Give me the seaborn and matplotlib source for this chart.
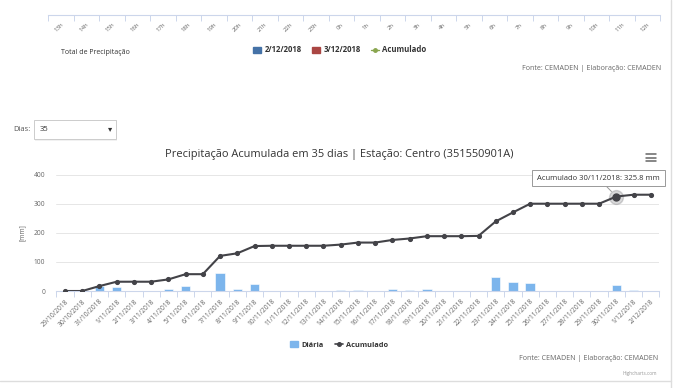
import matplotlib
matplotlib.use('Agg')
import matplotlib.pyplot as plt
import seaborn as sns
import pandas as pd
from matplotlib.patches import Rectangle, Patch
from matplotlib.lines import Line2D

# dados
datas = ['29/10/2018', '30/10/2018', '31/10/2018', '1/11/2018', '2/11/2018', '3/11/2018',
         '4/11/2018', '5/11/2018', '6/11/2018', '7/11/2018', '8/11/2018', '9/11/2018',
         '10/11/2018', '11/11/2018', '12/11/2018', '13/11/2018', '14/11/2018', '15/11/2018',
         '16/11/2018', '17/11/2018', '18/11/2018', '19/11/2018', '20/11/2018', '21/11/2018',
         '22/11/2018', '23/11/2018', '24/11/2018', '25/11/2018', '26/11/2018', '27/11/2018',
         '28/11/2018', '29/11/2018', '30/11/2018', '1/12/2018', '2/12/2018']
diaria = [0, 0, 17, 14, 0, 0, 7, 17, 0, 63, 8, 23, 1, 0, 0, 0, 2, 4, 0, 8, 2, 6,
          0, 0, 1, 48, 30, 29, 0, 0, 0, 0, 22, 2, 0]
acumulado = [0, 0, 17, 32, 32, 32, 40, 58, 58, 121, 130, 155, 156, 156, 156, 156, 160, 167,
             167, 176, 181, 189, 189, 189, 190, 240, 271, 301, 301, 301, 301, 301, 325.8, 332, 332]
y_ticks = [0, 100, 200, 300, 400]
horas = ['13h', '14h', '15h', '16h', '17h', '18h', '19h', '20h', '21h', '22h', '23h', '0h',
         '1h', '2h', '3h', '4h', '5h', '6h', '7h', '8h', '9h', '10h', '11h', '12h']
legenda_topo = ['2/12/2018', '3/12/2018', 'Acumulado']
dia_tooltip = '30/11/2018'

df = pd.DataFrame({'data': datas, 'diaria': diaria, 'acumulado': acumulado})

sns.set_theme(style='white')
plt.rcParams['font.family'] = ['Open Sans', 'DejaVu Sans']

W, H = 680, 388
fig = plt.figure(figsize=(W / 100, H / 100), dpi=100)
fig.patch.set_facecolor('white')


def fx(x):
    return x / W


def fy(y):
    return 1 - y / H


axis_col = '#ccd6eb'
txt_col = '#666666'

# --- pedaço do gráfico anterior (só o eixo x) ---
ax_top = fig.add_axes([fx(48), fy(15), fx(612), 0.02])
ax_top.set_xlim(-0.5, len(horas) - 0.5)
ax_top.set_ylim(0, 1)
for s in ['top', 'left', 'right']:
    ax_top.spines[s].set_visible(False)
ax_top.spines['bottom'].set_color(axis_col)
ax_top.spines['bottom'].set_linewidth(0.8)
ax_top.set_yticks([])
ax_top.set_xticks([i - 0.5 for i in range(len(horas) + 1)])
ax_top.set_xticklabels([])
ax_top.set_xticks(range(len(horas)), minor=True)
ax_top.set_xticklabels(horas, minor=True, rotation=45, ha='right', rotation_mode='anchor',
                       fontsize=4.3, color=txt_col)
ax_top.tick_params(axis='x', which='major', length=4, color=axis_col, width=0.7, bottom=True)
ax_top.tick_params(axis='x', which='minor', length=0, pad=5, bottom=True)
ax_top.patch.set_alpha(0)

fig.text(fx(61), fy(52), 'Total de Precipitação', fontsize=5.0, color='#333333', va='center')
top_handles = [Patch(color='#4572a7'), Patch(color='#aa4643'),
               Line2D([], [], color='#89a54e', marker='o', markersize=2.5, linewidth=1)]
leg_top = fig.legend(top_handles, legenda_topo, loc='center', bbox_to_anchor=(fx(340), fy(50)),
                     ncol=3, frameon=False, prop={'weight': 'bold', 'size': 5.6},
                     handlelength=1.0, handleheight=0.9, handletextpad=0.4, columnspacing=1.4)
for t in leg_top.get_texts():
    t.set_color('#333333')
fig.text(fx(661), fy(68), 'Fonte: CEMADEN | Elaboração: CEMADEN', fontsize=5.1,
         color=txt_col, ha='right', va='center')

# --- seletor de dias ---
fig.text(fx(13), fy(130), 'Dias:', fontsize=5.5, color='#555555', va='center')
fig.add_artist(Rectangle((fx(35), fy(141)), fx(82), 21 / H, transform=fig.transFigure,
                         facecolor='#eeeeee', edgecolor='none', alpha=0.8))
fig.add_artist(Rectangle((fx(34), fy(139)), fx(82), 19 / H, transform=fig.transFigure,
                         facecolor='white', edgecolor='#cccccc', linewidth=0.7))
fig.text(fx(40), fy(130), '35', fontsize=5.5, color='#333333', va='center')
fig.text(fx(110), fy(130), '▾', fontsize=6, color='#333333', va='center', ha='center')

# --- gráfico principal ---
fig.text(fx(339), fy(155), 'Precipitação Acumulada em 35 dias | Estação: Centro (351550901A)',
         fontsize=7.9, color='#333333', ha='center', va='center')
for yy in [154, 157.5, 161]:
    fig.add_artist(Line2D([fx(646), fx(656)], [fy(yy), fy(yy)], transform=fig.transFigure,
                          color='#666666', linewidth=1.1))

ax = fig.add_axes([fx(56.4), fy(291), fx(603), 116 / H])
sns.barplot(data=df, x='data', y='diaria', color='#7cb5ec', saturation=1, width=0.55,
            edgecolor='white', linewidth=0.4, ax=ax, zorder=2)
sns.pointplot(data=df, x='data', y='acumulado', color='#434348', markers='o', errorbar=None,
              markersize=2.6, linewidth=1.5, ax=ax, zorder=3)

i_tip = datas.index(dia_tooltip)
ax.plot(i_tip, acumulado[i_tip], 'o', color='#434348', markersize=10, alpha=0.2, zorder=4)
ax.plot(i_tip, acumulado[i_tip], 'o', color='#434348', markersize=5, zorder=5)
ax.annotate(f'Acumulado {dia_tooltip}: {acumulado[i_tip]} mm', xy=(i_tip, acumulado[i_tip]),
            xytext=(-18, 18.5), textcoords='offset pixels', ha='center', va='center',
            fontsize=5.5, color='#333333', zorder=6,
            bbox=dict(boxstyle='square,pad=0.65', fc='white', ec='#999999', lw=0.7),
            arrowprops=dict(arrowstyle='-', color='#999999', lw=0.7, shrinkA=0, shrinkB=5))

ax.set_xlim(-0.5, len(datas) - 0.5)
ax.set_ylim(0, 400)
ax.set_yticks(y_ticks)
ax.set_yticklabels([str(v) for v in y_ticks], fontsize=4.8, color=txt_col)
ax.tick_params(axis='y', length=0, pad=8)
ax.grid(axis='y', color='#e6e6e6', linewidth=0.7)
ax.set_axisbelow(True)
for s in ['top', 'left', 'right']:
    ax.spines[s].set_visible(False)
ax.spines['bottom'].set_color(axis_col)
ax.spines['bottom'].set_linewidth(0.8)
ax.set_xticks([i - 0.5 for i in range(len(datas) + 1)])
ax.set_xticklabels([])
ax.set_xticks(range(len(datas)), minor=True)
ax.set_xticklabels(datas, minor=True, rotation=45, ha='right', rotation_mode='anchor',
                   fontsize=4.8, color=txt_col)
ax.tick_params(axis='x', which='major', length=4, color=axis_col, width=0.7, bottom=True)
ax.tick_params(axis='x', which='minor', length=0, pad=5, bottom=True)
ax.set_xlabel('')
ax.set_ylabel('[mm]', fontsize=4.8, color=txt_col, labelpad=6)

handles = [Patch(color='#7cb5ec'),
           Line2D([], [], color='#434348', marker='o', markersize=2.6, linewidth=1.2)]
leg = fig.legend(handles, ['Diária', 'Acumulado'], loc='center', bbox_to_anchor=(fx(339), fy(345)),
                 ncol=2, frameon=False, prop={'weight': 'bold', 'size': 5.3},
                 handlelength=1.1, handleheight=0.9, handletextpad=0.4, columnspacing=1.5)
for t in leg.get_texts():
    t.set_color('#333333')

fig.text(fx(658), fy(358), 'Fonte: CEMADEN | Elaboração: CEMADEN', fontsize=5.1,
         color=txt_col, ha='right', va='center')
fig.text(fx(657), fy(373), 'Highcharts.com', fontsize=3.4, color='#999999',
         ha='right', va='center')

# bordas do painel
fig.add_artist(Line2D([fx(671), fx(671)], [0, 1], transform=fig.transFigure,
                      color='#dddddd', linewidth=1))
fig.add_artist(Line2D([0, fx(671)], [fy(381), fy(381)], transform=fig.transFigure,
                      color='#dddddd', linewidth=1))

fig.savefig('out.png', dpi=100, facecolor='white')
